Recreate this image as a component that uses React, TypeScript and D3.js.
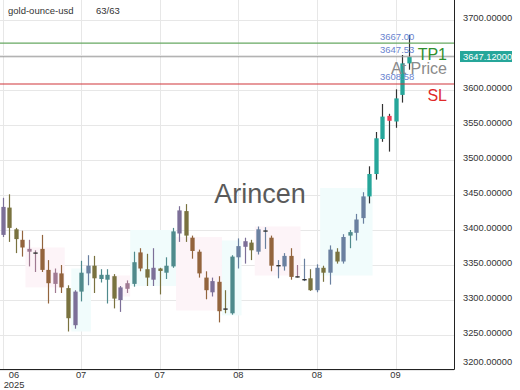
import { useEffect, useRef } from "react";
import * as d3 from "d3";

// daily OHLC
const opens = [
  3433, 3403, 3401, 3386, 3373, 3368, 3343, 3343, 3339, 3318,
  3317, 3264, 3312, 3338, 3349, 3330, 3336, 3334, 3300, 3316,
  3323, 3345, 3344, 3329, 3345, 3339, 3348, 3395, 3427, 3389,
  3369, 3332, 3311, 3326, 3288, 3281, 3361, 3376, 3382, 3369,
  3399.5, 3389, 3350, 3348, 3363, 3334, 3330, 3331, 3314, 3346,
  3339, 3369, 3355, 3392, 3396, 3417, 3448, 3480, 3530, 3563,
  3555, 3593, 3638,
];
const highs = [
  3446, 3451, 3403, 3399, 3386, 3371, 3393, 3357, 3345, 3350,
  3321, 3314, 3356, 3364, 3363, 3344, 3344, 3337, 3320, 3328,
  3369, 3374, 3366, 3374, 3346, 3361, 3403, 3434, 3437, 3392,
  3372, 3341, 3332, 3334, 3314, 3364, 3388, 3389, 3386, 3405,
  3404, 3392, 3357, 3367, 3374, 3350, 3359, 3344, 3351, 3349,
  3378, 3374, 3394, 3400, 3423, 3454, 3491, 3540, 3580, 3566,
  3601, 3650, 3679,
];
const lows = [
  3390, 3383, 3367, 3362, 3348, 3340, 3340, 3295, 3310, 3310,
  3255, 3259, 3298, 3321, 3310, 3325, 3295, 3288, 3283, 3310,
  3319, 3341, 3320, 3320, 3308, 3330, 3346, 3383, 3383, 3359,
  3332, 3301, 3305, 3268, 3281, 3279, 3345, 3352, 3357, 3365,
  3373, 3341, 3331, 3342, 3329, 3332, 3327, 3313, 3311, 3326,
  3322, 3352, 3352, 3374, 3385, 3409, 3438, 3472, 3526, 3512,
  3546, 3582, 3629,
];
const closes = [
  3393, 3432, 3387, 3375, 3369, 3366.5, 3373, 3324, 3323, 3338,
  3274, 3312, 3339, 3349, 3331, 3336, 3329, 3302, 3318, 3324,
  3354, 3368, 3332, 3346, 3341.5, 3349, 3398, 3428, 3392, 3370,
  3338, 3314, 3327, 3284, 3286.5, 3362, 3377, 3384, 3371, 3401,
  3398.5, 3349, 3349, 3363, 3333, 3333, 3329.5, 3314, 3346, 3339,
  3372, 3355, 3390, 3397, 3415, 3448, 3480, 3531, 3562, 3556,
  3588, 3638, 3647.12,
];
// candle colour group
const tones = [
  "P", "O", "O", "B", "K", "K", "B", "B", "K", "B",
  "O", "P", "T", "G", "O", "T", "T", "O", "P", "K",
  "T", "B", "O", "P", "O", "T", "T", "P", "O", "B",
  "B", "B", "P", "B", "O", "T", "G", "P", "O", "G",
  "G", "B", "G", "G", "B", "K", "G", "O", "G", "O",
  "G", "O", "G", "T", "G", "G", "U", "U", "U", "D",
  "U", "U", "U",
];

// shaded trend zones
const zoneStart = [4, 11, 17, 20, 27, 34, 39, 49];
const zoneEnd = [9, 13, 19, 26, 33, 36, 45, 56];
const zoneHigh = [3375, 3345, 3335, 3400, 3390, 3385, 3405, 3460];
const zoneLow = [3318, 3255, 3305, 3320, 3285, 3278, 3335, 3335];
const zoneKind = ["dn", "up", "dn", "up", "dn", "up", "dn", "up"];

const xTickIndex = [0, 12, 24, 36, 48, 60];
const xTickLabels = ["06", "07", "07", "08", "08", "09"];
const yTicks = [3200, 3250, 3300, 3350, 3400, 3450, 3500, 3550, 3600, 3650, 3700];

const levelNames = ["TP1", "At Price", "SL"];
const levelValues = [3667.0, 3647.53, 3608.58];
const lastPrice = 3647.12;

export default function App() {
  const width = 520;
  const height = 390;
  const plot = { left: 0, right: 454, top: 0, bottom: 369 };
  const svgRef = useRef<SVGSVGElement | null>(null);

  useEffect(() => {
    if (!svgRef.current) return;
    const svg = d3.select(svgRef.current);
    svg.selectAll("*").remove();
    const font = "'Liberation Sans', Arial, sans-serif";

    const x = d3
      .scalePoint<number>()
      .domain(d3.range(opens.length))
      .range([2.5, 408.6]);
    const y = d3.scaleLinear().domain([3200, 3700]).range([370, 20]);
    const step = x.step();
    const bodyW = 4.3;

    const toneColor = d3
      .scaleOrdinal<string, string>()
      .domain(["P", "O", "B", "K", "G", "T", "U", "D"])
      .range(["#7c6f98", "#79723f", "#93643d", "#a07a92", "#6a80a0", "#4f8a8c", "#26a69a", "#ef3b53"]);

    svg.append("rect").attr("width", width).attr("height", height).attr("fill", "#fff");

    // grid
    const grid = svg.append("g").attr("stroke", "#e7e7e7").attr("stroke-width", 1);
    grid
      .selectAll("line.h")
      .data(yTicks)
      .join("line")
      .attr("x1", plot.left)
      .attr("x2", plot.right)
      .attr("y1", (d) => Math.round(y(d)) + 0.5)
      .attr("y2", (d) => Math.round(y(d)) + 0.5);
    grid
      .selectAll("line.v")
      .data(xTickIndex)
      .join("line")
      .attr("x1", (d) => Math.round(x(d) as number) + 0.5)
      .attr("x2", (d) => Math.round(x(d) as number) + 0.5)
      .attr("y1", plot.top)
      .attr("y2", plot.bottom);

    // zones (very faint)
    svg
      .append("g")
      .selectAll("rect")
      .data(zoneStart)
      .join("rect")
      .attr("x", (d) => (x(d) as number) - step / 2)
      .attr("width", (_, i) => (x(zoneEnd[i]) as number) - (x(zoneStart[i]) as number) + step)
      .attr("y", (_, i) => y(zoneHigh[i]))
      .attr("height", (_, i) => y(zoneLow[i]) - y(zoneHigh[i]))
      .attr("fill", (_, i) => (zoneKind[i] === "up" ? "#f1fcfc" : "#fdf4f8"));

    // watermark
    svg
      .append("text")
      .attr("x", 260)
      .attr("y", 203)
      .attr("text-anchor", "middle")
      .attr("font-family", font)
      .attr("font-size", 27)
      .attr("fill", "#5a5a5a")
      .text("Arincen");

    // candles
    const idx = d3.range(opens.length);
    const candles = svg.append("g").selectAll("g").data(idx).join("g");
    candles
      .append("line")
      .attr("x1", (i) => Math.round(x(i) as number) + 0.5)
      .attr("x2", (i) => Math.round(x(i) as number) + 0.5)
      .attr("y1", (i) => y(highs[i]))
      .attr("y2", (i) => y(lows[i]))
      .attr("stroke", (i) => (tones[i] === "U" || tones[i] === "D" ? "#333" : toneColor(tones[i])))
      .attr("stroke-width", 1.2);
    candles
      .append("rect")
      .attr("x", (i) => Math.round(x(i) as number) + 0.5 - bodyW / 2)
      .attr("width", bodyW)
      .attr("y", (i) => y(Math.max(opens[i], closes[i])))
      .attr("height", (i) => Math.max(1.4, Math.abs(y(opens[i]) - y(closes[i]))))
      .attr("fill", (i) => (Math.abs(opens[i] - closes[i]) < 2 && tones[i] !== "U" ? "#333" : toneColor(tones[i])));

    // level lines
    const levelStroke = ["#67a862", "#9a9a9a", "#d0343a"];
    const levelText = ["#2f8f2f", "#8a8a8a", "#e02a2a"];
    const levels = svg.append("g");
    levels
      .selectAll("line")
      .data(levelValues)
      .join("line")
      .attr("x1", plot.left)
      .attr("x2", plot.right)
      .attr("y1", (d) => y(d))
      .attr("y2", (d) => y(d))
      .attr("stroke", (_, i) => levelStroke[i])
      .attr("stroke-width", 1.2);
    levels
      .selectAll("text.val")
      .data(levelValues)
      .join("text")
      .attr("x", 380)
      .attr("y", (d) => y(d) - 3.5)
      .attr("font-family", font)
      .attr("font-size", 9.5)
      .attr("fill", "#6a84cf")
      .text((d) => d.toFixed(2));
    levels
      .selectAll("text.name")
      .data(levelNames)
      .join("text")
      .attr("x", 447)
      .attr("y", (_, i) => y(levelValues[i]) + 17)
      .attr("text-anchor", "end")
      .attr("font-family", font)
      .attr("font-size", 16)
      .attr("fill", (_, i) => levelText[i])
      .text((d) => d);

    // frame
    svg
      .append("path")
      .attr("d", `M${plot.right + 0.5},${plot.top}V${plot.bottom + 0.5}H${plot.left}`)
      .attr("fill", "none")
      .attr("stroke", "#222")
      .attr("stroke-width", 1);

    // right axis (a tick label under the price tag is hidden)
    const py = y(lastPrice);
    svg
      .append("g")
      .selectAll("text")
      .data(yTicks.filter((d) => Math.abs(y(d) - py) > 11))
      .join("text")
      .attr("x", 463)
      .attr("y", (d) => Math.min(y(d) - 2, 362))
      .attr("dy", "0.35em")
      .attr("font-family", font)
      .attr("font-size", 9.3)
      .attr("fill", "#333")
      .text((d) => d.toFixed(5));

    svg
      .append("rect")
      .attr("x", 460)
      .attr("y", py - 6)
      .attr("width", 52)
      .attr("height", 11)
      .attr("fill", "#26a69a");
    svg
      .append("text")
      .attr("x", 463)
      .attr("y", py - 0.5)
      .attr("dy", "0.35em")
      .attr("font-family", font)
      .attr("font-size", 9.3)
      .attr("fill", "#fff")
      .text(lastPrice.toFixed(5));

    // bottom axis
    const xa = svg.append("g");
    xa.selectAll("text")
      .data(xTickIndex)
      .join("text")
      .attr("x", (d) => Math.max(x(d) as number, 14))
      .attr("y", 378)
      .attr("text-anchor", "middle")
      .attr("font-family", font)
      .attr("font-size", 9.3)
      .attr("fill", "#333")
      .text((_, i) => xTickLabels[i]);
    xa.append("text")
      .attr("x", 14)
      .attr("y", 388)
      .attr("text-anchor", "middle")
      .attr("font-family", font)
      .attr("font-size", 9.3)
      .attr("fill", "#333")
      .text("2025");

    // header
    svg
      .append("text")
      .attr("x", 8)
      .attr("y", 14)
      .attr("font-family", font)
      .attr("font-size", 9.5)
      .attr("fill", "#333")
      .text("gold-ounce-usd");
    svg
      .append("text")
      .attr("x", 96)
      .attr("y", 14)
      .attr("font-family", font)
      .attr("font-size", 9.5)
      .attr("fill", "#333")
      .text(`${opens.length}/${opens.length}`);
  }, []);

  return (
    <svg
      ref={svgRef}
      width={width}
      height={height}
      style={{ position: "absolute", left: 0, top: 0, display: "block" }}
    />
  );
}
